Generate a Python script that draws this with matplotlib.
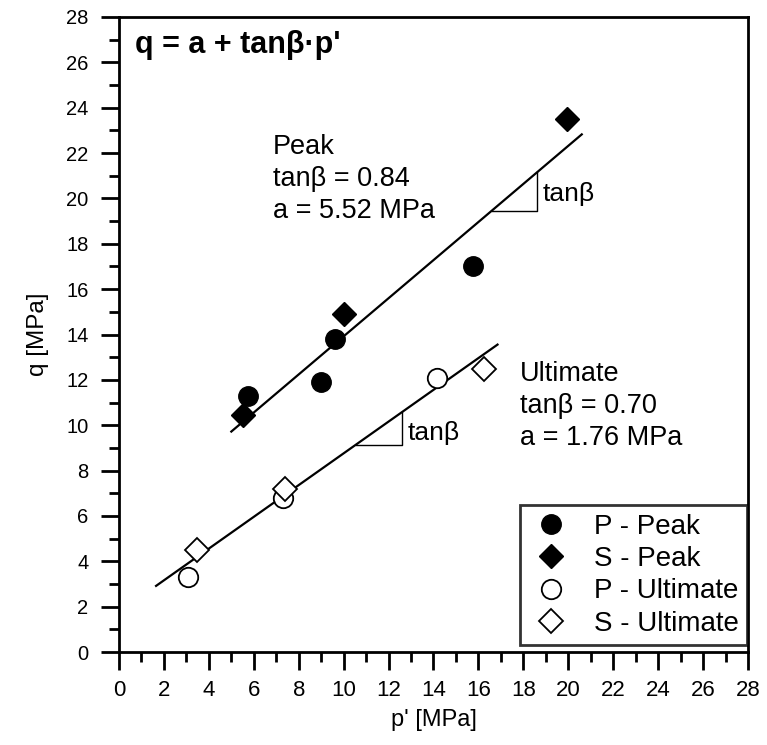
import numpy as np
import matplotlib.pyplot as plt
from matplotlib.ticker import MultipleLocator

plt.rcParams['font.family'] = ['Liberation Sans', 'DejaVu Sans']

# data
p_peak_p = [5.75, 9.0, 9.6, 15.75]
p_peak_q = [11.3, 11.9, 13.8, 17.0]
s_peak_p = [5.5, 10.0, 19.95]
s_peak_q = [10.45, 14.9, 23.5]
p_ult_p = [3.05, 7.3, 14.15]
p_ult_q = [3.3, 6.8, 12.1]
s_ult_p = [3.45, 7.4, 16.25]
s_ult_q = [4.5, 7.2, 12.5]

peak_fit = (5.52, 0.84)      # a, tan(beta)
ult_fit = (1.76, 0.70)
peak_range = [5.0, 20.6]
ult_range = [1.65, 16.85]

fig = plt.figure(figsize=(7.67, 7.45), dpi=100)
ax = fig.add_axes([119/767, 1 - 652/745, (748-119)/767, (652-17)/745])

ms_c = 14
ms_d = 12
ax.plot(p_peak_p, p_peak_q, 'o', color='black', ms=ms_c, label='P - Peak', zorder=3)
ax.plot(s_peak_p, s_peak_q, 'D', color='black', ms=ms_d, label='S - Peak', zorder=3)
ax.plot(p_ult_p, p_ult_q, 'o', mfc='white', mec='black', mew=1.3, ms=ms_c, label='P - Ultimate', zorder=3)
ax.plot(s_ult_p, s_ult_q, 'D', mfc='white', mec='black', mew=1.3, ms=ms_d, label='S - Ultimate', zorder=3)

for (a, t), rng in [(peak_fit, peak_range), (ult_fit, ult_range)]:
    x = np.array(rng)
    ax.plot(x, a + t * x, color='black', lw=1.6, zorder=2)

# slope triangles
def slope_tri(a, t, x0, x1, tx, ty):
    y0 = a + t * x0
    y1 = a + t * x1
    ax.plot([x0, x1, x1], [y0, y0, y1], color='black', lw=1.0)
    ax.text(tx, ty, 'tanβ', fontsize=19, va='center', ha='left')

slope_tri(*peak_fit, 16.6, 18.6, 18.85, 20.2)
slope_tri(*ult_fit, 10.55, 12.6, 12.85, 9.65)

ax.text(6.85, 22.85, 'Peak\ntanβ = 0.84\na = 5.52 MPa',
        fontsize=19.5, va='top', ha='left', linespacing=1.3)
ax.text(17.85, 12.85, 'Ultimate\ntanβ = 0.70\na = 1.76 MPa',
        fontsize=19.5, va='top', ha='left', linespacing=1.3)
ax.text(0.7, 26.75, "q = a + tanβ·p'", fontsize=22, fontweight='bold',
        va='center', ha='left')

ax.set_xlim(0, 28)
ax.set_ylim(0, 28)
ax.xaxis.set_major_locator(MultipleLocator(2))
ax.xaxis.set_minor_locator(MultipleLocator(1))
ax.yaxis.set_major_locator(MultipleLocator(2))
ax.yaxis.set_minor_locator(MultipleLocator(1))
ax.tick_params(which='major', direction='out', length=13, width=2)
ax.tick_params(which='minor', direction='out', length=7.5, width=2)
ax.tick_params(axis='y', which='major', labelsize=14.5, pad=9)
ax.tick_params(axis='x', which='major', labelsize=16, pad=7)
for s in ax.spines.values():
    s.set_linewidth(2)

ax.set_xlabel("p' [MPa]", fontsize=17, labelpad=6)
ax.set_ylabel('q [MPa]', fontsize=17.5, labelpad=12)

leg = ax.legend(loc='lower right', bbox_to_anchor=(747/767, 1 - 645/745),
                bbox_transform=fig.transFigure, borderaxespad=0,
                fontsize=20, frameon=True, fancybox=False, edgecolor='black',
                handletextpad=0.75, labelspacing=0.23, borderpad=0.3,
                handlelength=1.6)
leg.get_frame().set_linewidth(2)

fig.savefig('out.png', dpi=100)
